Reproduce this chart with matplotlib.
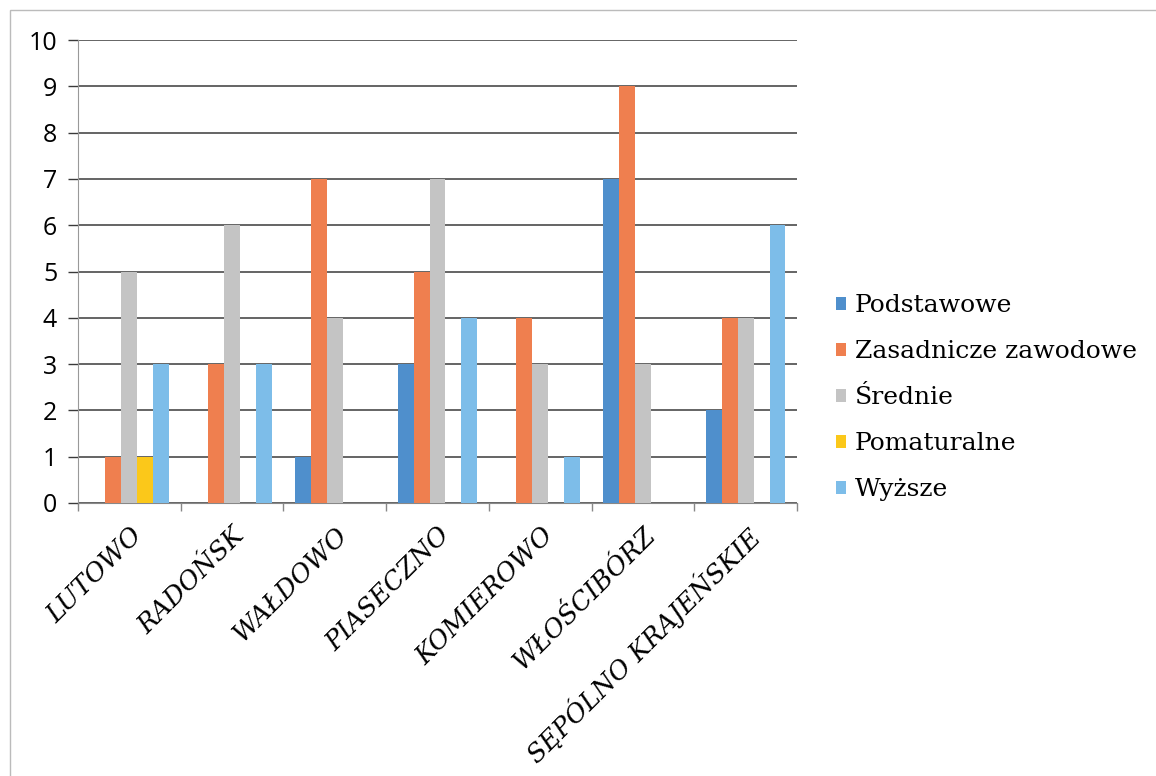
import numpy as np
import matplotlib.pyplot as plt
from matplotlib.patches import Rectangle

# dane z wykresu
miejscowosci = ['LUTOWO', 'RADOŃSK', 'WAŁDOWO', 'PIASECZNO', 'KOMIEROWO',
                'WŁOŚCIBÓRZ', 'SĘPÓLNO KRAJEŃSKIE']
serie = ['Podstawowe', 'Zasadnicze zawodowe', 'Średnie', 'Pomaturalne', 'Wyższe']
podstawowe = [0, 0, 1, 3, 0, 7, 2]
zasadnicze = [1, 3, 7, 5, 4, 9, 4]
srednie = [5, 6, 4, 7, 3, 3, 4]
pomaturalne = [1, 0, 0, 0, 0, 0, 0]
wyzsze = [3, 3, 0, 4, 1, 0, 6]

kolory = ['#4f8fcc', '#ef7f4f', '#c4c4c4', '#fbc81a', '#7dbde9']

fig = plt.figure(figsize=(11.56, 7.76), dpi=100)
ax = fig.add_axes([78 / 1156, 1 - 503 / 776, 719 / 1156, 463 / 776])

x = np.arange(len(miejscowosci))
szer = 0.155                     # szerokosc jednego slupka
wartosci = [podstawowe, zasadnicze, srednie, pomaturalne, wyzsze]
for i, (nazwa, v) in enumerate(zip(serie, wartosci)):
    ax.bar(x + (i - 2) * szer, v, szer, color=kolory[i], label=nazwa, zorder=3)

ax.set_xlim(-0.5, len(miejscowosci) - 0.5)
ax.set_ylim(0, 10)
ax.set_yticks(range(0, 11))
ax.yaxis.grid(True, color='#3a3a3a', linewidth=1.1, zorder=0)
ax.tick_params(axis='y', length=7, color='#3a3a3a', width=1.0, pad=8, labelsize=18)
for t in ax.get_yticklabels():
    t.set_family('Open Sans')

# kreski osi x miedzy kategoriami
ax.set_xticks(np.arange(-0.5, len(miejscowosci)), minor=False)
ax.set_xticklabels([])
ax.tick_params(axis='x', length=6, color='#888888', width=1.0)
ax.set_xticks(x, minor=True)
ax.set_xticklabels(miejscowosci, minor=True, rotation=45, ha='right',
                   rotation_mode='anchor', family='DejaVu Serif', style='italic',
                   fontsize=18.5)
ax.tick_params(axis='x', which='minor', length=0, pad=14)

for s in ['top', 'right']:
    ax.spines[s].set_visible(False)
ax.spines['left'].set_color('#999999')
ax.spines['bottom'].set_color('#888888')

leg = ax.legend(loc='center left', bbox_to_anchor=(1.054, 0.227), frameon=False,
                prop={'family': 'DejaVu Serif', 'size': 18},
                handlelength=0.42, handleheight=0.42, handletextpad=0.35,
                labelspacing=0.92, borderpad=0, borderaxespad=0)

# ramka skanu
fig.patches.append(Rectangle((10 / 1156, -0.1), 1.2, 1 - 10 / 776 + 0.1,
                             transform=fig.transFigure, fill=False,
                             edgecolor='#bbbbbb', linewidth=1.0))

fig.savefig('out.png', dpi=100)
